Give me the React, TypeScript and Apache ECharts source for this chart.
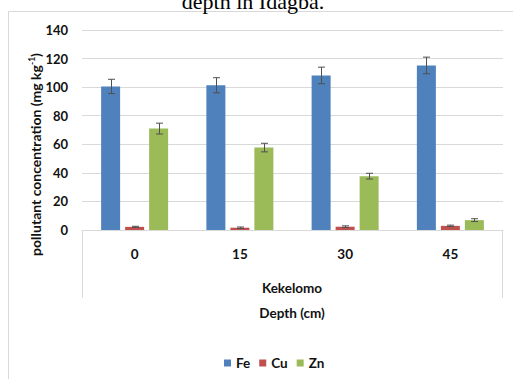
import React, { useEffect, useRef } from "react";
import * as echarts from "echarts";

// Sampling depths (cm) at Kekelomo
const depths = ["0", "15", "30", "45"];

// Mean concentrations (mg kg-1)
const feValues = [100.5, 101.3, 108.2, 115.2];
const cuValues = [2.2, 1.6, 2.3, 2.9];
const znValues = [71, 57.7, 37.7, 6.9];

// Standard errors (mg kg-1)
const feErrors = [5, 5.3, 5.8, 5.8];
const cuErrors = [0.4, 0.5, 0.6, 0.5];
const znErrors = [3.8, 3, 2, 1];

const seriesNames = ["Fe", "Cu", "Zn"];
const colors = ["#4F81BD", "#C0504D", "#9BBB59"];

const FONT = "Lato, 'Liberation Sans', sans-serif";
const BAR_W = 19;
const BAR_GAP = 5;

function errorSeries(name: string, values: number[], errors: number[], slot: number) {
  const offset = (slot - 1) * (BAR_W + BAR_GAP);
  return {
    type: "custom",
    name: name + " error",
    z: 5,
    silent: true,
    data: values.map((v, i) => [i, v, errors[i]]),
    renderItem: (_params: any, api: any) => {
      const idx = api.value(0);
      const v = api.value(1);
      const e = api.value(2);
      const hi = api.coord([idx, v + e]);
      const lo = api.coord([idx, v - e]);
      const x = Math.round(hi[0] + offset) + 0.5;
      const cap = 3.5;
      const style = { stroke: "#505050", lineWidth: 1 };
      return {
        type: "group",
        children: [
          { type: "line", shape: { x1: x, y1: hi[1], x2: x, y2: lo[1] }, style },
          { type: "line", shape: { x1: x - cap, y1: hi[1], x2: x + cap, y2: hi[1] }, style },
          { type: "line", shape: { x1: x - cap, y1: lo[1], x2: x + cap, y2: lo[1] }, style },
        ],
      };
    },
  };
}

export default function App() {
  const ref = useRef<HTMLDivElement>(null);

  useEffect(() => {
    if (!ref.current) return;
    const chart = echarts.init(ref.current, null, { renderer: "svg" });
    const valueSets = [feValues, cuValues, znValues];
    const errorSets = [feErrors, cuErrors, znErrors];

    chart.setOption({
      animation: false,
      backgroundColor: "#fff",
      grid: { left: 82, right: 10, top: 30, bottom: 149, containLabel: false },
      legend: {
        data: seriesNames,
        left: 219,
        top: 351,
        icon: "rect",
        itemWidth: 7,
        itemHeight: 7,
        itemGap: 9,
        textStyle: { fontFamily: FONT, fontWeight: "bold", fontSize: 13.5, color: "#111" },
      },
      xAxis: {
        type: "category",
        data: depths,
        axisLine: { lineStyle: { color: "#D9D9D9", width: 1 } },
        axisTick: { show: false },
        axisLabel: {
          fontFamily: FONT,
          fontWeight: "bold",
          fontSize: 13.5,
          color: "#111",
          margin: 17,
        },
      },
      yAxis: {
        type: "value",
        min: 0,
        max: 140,
        interval: 20,
        axisLine: { show: false },
        axisTick: { show: false },
        splitLine: { lineStyle: { color: "#D9D9D9", width: 1 } },
        axisLabel: {
          fontFamily: FONT,
          fontWeight: "bold",
          fontSize: 13,
          color: "#111",
          margin: 14,
        },
      },
      series: [
        ...seriesNames.map((name, k) => ({
          type: "bar",
          name,
          data: valueSets[k],
          barWidth: BAR_W,
          barGap: `${((BAR_GAP / BAR_W) * 100).toFixed(1)}%`,
          itemStyle: { color: colors[k] },
        })),
        ...seriesNames.map((name, k) => errorSeries(name, valueSets[k], errorSets[k], k)),
      ],
      graphic: [
        {
          type: "rect",
          shape: { x: 8.5, y: 11.5, width: 700, height: 700 },
          style: { fill: "none", stroke: "#D9D9D9", lineWidth: 1 },
          silent: true,
        },
        {
          type: "text",
          x: 253,
          y: 1,
          style: {
            text: "depth in Idagba.",
            font: "22px 'Liberation Serif', serif",
            fill: "#000",
            align: "center",
            verticalAlign: "middle",
          },
        },
        {
          type: "line",
          shape: { x1: 82.5, y1: 230, x2: 82.5, y2: 298 },
          style: { stroke: "#D9D9D9", lineWidth: 1 },
        },
        {
          type: "line",
          shape: { x1: 502.5, y1: 230, x2: 502.5, y2: 298 },
          style: { stroke: "#D9D9D9", lineWidth: 1 },
        },
        {
          type: "text",
          x: 292,
          y: 287.5,
          style: {
            text: "Kekelomo",
            font: `bold 13.5px ${FONT}`,
            fill: "#111",
            align: "center",
            verticalAlign: "middle",
          },
        },
        {
          type: "text",
          x: 292,
          y: 312.5,
          style: {
            text: "Depth (cm)",
            font: `bold 13.5px ${FONT}`,
            fill: "#111",
            align: "center",
            verticalAlign: "middle",
          },
        },
        {
          type: "text",
          x: 35,
          y: 154.5,
          rotation: Math.PI / 2,
          style: {
            text: "{a|pollutant concentration (mg kg}{s|-1}{a|)}",
            align: "center",
            verticalAlign: "middle",
            fill: "#111",
            rich: {
              a: { fontFamily: FONT, fontWeight: "bold", fontSize: 14, lineHeight: 16 },
              s: { fontFamily: FONT, fontWeight: "bold", fontSize: 8.5, lineHeight: 16, verticalAlign: "top" },
            },
          },
        },
      ],
    });

    return () => chart.dispose();
  }, []);

  return (
    <div
      ref={ref}
      style={{ position: "fixed", left: 0, top: 0, width: 513, height: 379 }}
    />
  );
}
